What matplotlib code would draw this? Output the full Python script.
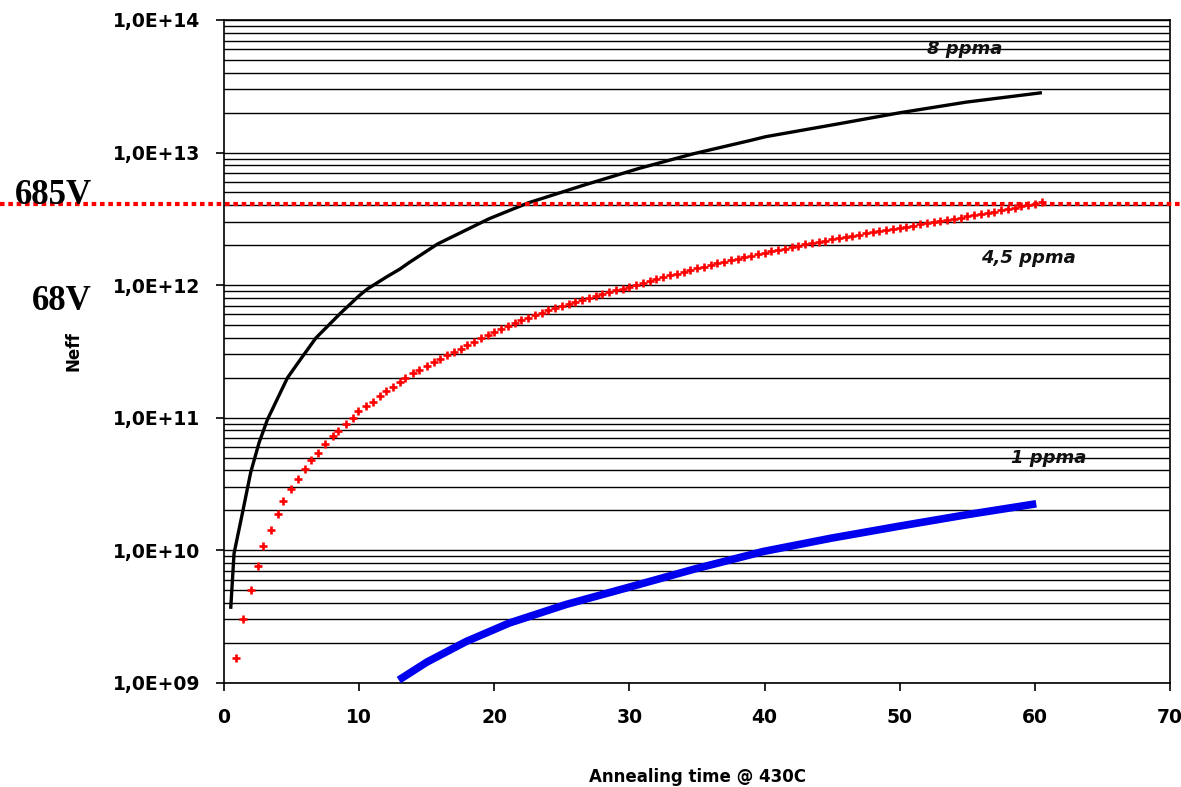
import numpy as np
import matplotlib.pyplot as plt
from matplotlib.ticker import FixedLocator, LogLocator, NullFormatter

# Annealing time (min) and log10(Neff)
t_8ppma = [0.5, 0.74, 1.36, 1.98, 2.59, 3.21, 4.69, 5.8, 6.79, 8.64, 10.0, 10.6,
           12.0, 13.0, 13.7, 15.8, 19.6, 22.5, 26.5, 30.7, 34.7, 38.9, 40.1, 45.1,
           50.0, 54.9, 60.4]
logn_8ppma = [9.57, 9.975, 10.28, 10.59, 10.81, 10.985, 11.30, 11.46, 11.60, 11.79,
              11.92, 11.97, 12.06, 12.12, 12.17, 12.31, 12.50, 12.62, 12.75, 12.88,
              12.99, 13.09, 13.12, 13.21, 13.30, 13.38, 13.45]

t_45ppma = [0.91, 1.43, 1.98, 2.52, 2.91, 3.46, 4.0, 4.4, 4.94, 5.48, 6.0, 6.42,
            6.96, 7.5, 8.05, 8.44, 8.99, 9.53, 9.93, 10.47, 11.0, 11.56, 11.95,
            12.5, 13.0, 13.4, 14.0, 14.4,
            15.0, 15.5, 16.0, 16.5, 17.0, 17.5, 18.0, 18.5, 19.0, 19.5,
            20.0, 20.5, 21.0, 21.5, 22.0, 22.5, 23.0, 23.5, 24.0, 24.5,
            25.0, 25.5, 26.0, 26.5, 27.0, 27.5, 28.0, 28.5, 29.0, 29.5,
            30.0, 30.5, 31.0, 31.5, 32.0, 32.5, 33.0, 33.5, 34.0, 34.5,
            35.0, 35.5, 36.0, 36.5, 37.0, 37.5, 38.0, 38.5, 39.0, 39.5,
            40.0, 40.5, 41.0, 41.5, 42.0, 42.5, 43.0, 43.5, 44.0, 44.5,
            45.0, 45.5, 46.0, 46.5, 47.0, 47.5, 48.0, 48.5, 49.0, 49.5,
            50.0, 50.5, 51.0, 51.5, 52.0, 52.5, 53.0, 53.5, 54.0, 54.5,
            55.0, 55.5, 56.0, 56.5, 57.0, 57.5, 58.0, 58.5, 59.0, 59.5,
            60.0, 60.5]
logn_45ppma = [9.19, 9.48, 9.70, 9.88, 10.03, 10.15, 10.27, 10.37, 10.46, 10.54,
               10.61, 10.68, 10.73, 10.80, 10.86, 10.90, 10.95, 10.995, 11.05, 11.09,
               11.12, 11.16, 11.20, 11.23, 11.27, 11.30, 11.34, 11.36,
               11.391, 11.417, 11.443, 11.469, 11.495, 11.521, 11.547, 11.573, 11.599, 11.624,
               11.647, 11.669, 11.692, 11.714, 11.736, 11.755, 11.774, 11.793, 11.811, 11.830,
               11.845, 11.860, 11.875, 11.890, 11.905, 11.920, 11.933, 11.947, 11.960, 11.973,
               11.987, 12.001, 12.016, 12.030, 12.044, 12.059, 12.073, 12.087, 12.101, 12.115,
               12.128, 12.140, 12.152, 12.164, 12.176, 12.188, 12.200, 12.211, 12.222, 12.233,
               12.244, 12.255, 12.265, 12.276, 12.287, 12.298, 12.307, 12.316, 12.325, 12.335,
               12.344, 12.353, 12.362, 12.372, 12.381, 12.390, 12.398, 12.407, 12.415, 12.424,
               12.432, 12.441, 12.449, 12.458, 12.466, 12.475, 12.484, 12.492, 12.501, 12.509,
               12.518, 12.526, 12.535, 12.543, 12.552, 12.565, 12.575, 12.585, 12.595, 12.605,
               12.615, 12.625]

t_1ppma = [12.93, 15.0, 17.9, 21.1, 25.3, 29.95, 34.9, 39.9, 44.9, 49.9, 54.8, 60.1]
logn_1ppma = [9.02, 9.155, 9.31, 9.45, 9.59, 9.72, 9.86, 9.99, 10.09, 10.18, 10.265, 10.35]

neff_685V = 4.1e12

xticks = [0, 10, 20, 30, 40, 50, 60, 70]
yticks = [1e9, 1e10, 1e11, 1e12, 1e13, 1e14]
ytick_labels = ['1,0E+09', '1,0E+10', '1,0E+11', '1,0E+12', '1,0E+13', '1,0E+14']

fig = plt.figure(figsize=(11.81, 7.87), dpi=100)
ax = fig.add_axes([0.1897, 0.1325, 0.8010, 0.8421])

ax.set_yscale('log')
ax.set_xlim(0, 70)
ax.set_ylim(1e9, 1e14)

ax.yaxis.set_major_locator(FixedLocator(yticks))
ax.yaxis.set_minor_locator(LogLocator(base=10, subs=np.arange(2, 10)))
ax.yaxis.set_minor_formatter(NullFormatter())
ax.set_yticklabels(ytick_labels)
ax.set_xticks(xticks)
ax.grid(True, which='both', axis='y', color='black', linewidth=1.0)
ax.set_axisbelow(True)

ax.tick_params(axis='y', which='major', direction='out', length=6, width=1.2,
               pad=11, labelsize=13.5)
ax.tick_params(axis='y', which='minor', length=0)
ax.tick_params(axis='x', direction='out', length=6, width=1.2, pad=12, labelsize=13.5)
for lab in ax.get_xticklabels() + ax.get_yticklabels():
    lab.set_fontweight('bold')

for s in ['left', 'right', 'bottom', 'top']:
    ax.spines[s].set_linewidth(1.2)
    ax.spines[s].set_color('black')

ax.plot(t_8ppma, 10 ** np.array(logn_8ppma), color='black', linewidth=2.4, zorder=3)
ax.plot(t_45ppma, 10 ** np.array(logn_45ppma), linestyle='none', marker='+',
        color='red', markersize=6, markeredgewidth=1.9, zorder=3)
ax.plot(t_1ppma, 10 ** np.array(logn_1ppma), color='#0000ee', linewidth=5.5,
        solid_capstyle='butt', zorder=3)

ax.axhline(neff_685V, xmin=-0.237, xmax=1.012, clip_on=False, color='red',
           linewidth=3, linestyle=(0, (1.1, 0.9)), zorder=4)

lab_font = dict(fontsize=13, fontweight='bold', fontstyle='italic', color='#111111')
ax.text(54.8, 6.0e13, '8 ppma', ha='center', va='center', **lab_font)
ax.text(59.5, 1.6e12, '4,5 ppma', ha='center', va='center', **lab_font)
ax.text(61.0, 5.0e10, '1 ppma', ha='center', va='center', **lab_font)

ax.set_xlabel('Annealing time @ 430C', fontsize=12, fontweight='bold', labelpad=30)
ax.set_ylabel('Neff', fontsize=12, fontweight='bold', labelpad=10)
ax.yaxis.set_label_coords(-0.150, 0.5)

serif = dict(family='Liberation Serif', fontsize=25, fontweight='bold',
             ha='right', va='center')
fig.text(92 / 1181, 1 - 196 / 787, '685V', **serif)
fig.text(92 / 1181, 1 - 301 / 787, '68V', **serif)

fig.savefig('out.png', dpi=100)
